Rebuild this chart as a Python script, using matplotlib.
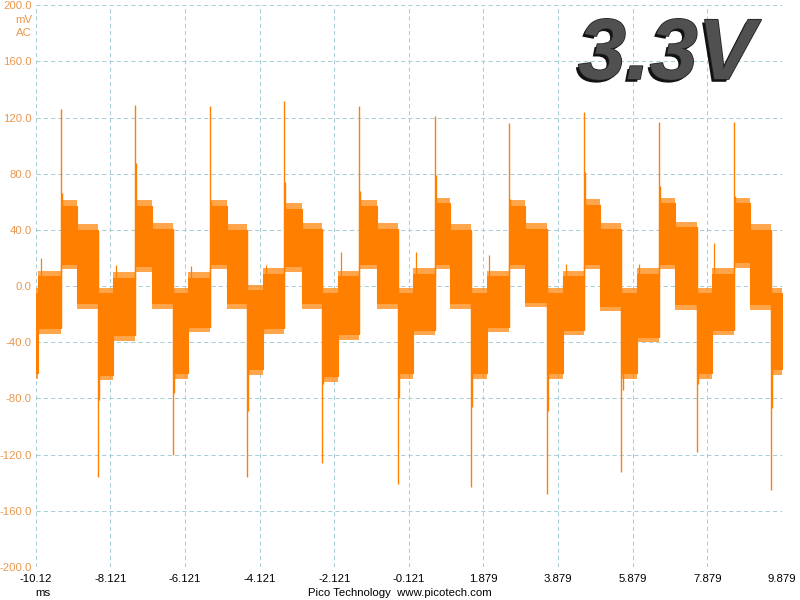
import matplotlib
matplotlib.use("Agg")
import matplotlib.pyplot as plt
import matplotlib.patheffects as pe

# ---------------- data (time in ms, level in mV) -------------
x_tick_vals = [-10.12, -8.121, -6.121, -4.121, -2.121, -0.121, 1.879, 3.879, 5.879, 7.879, 9.879]
x_tick_labels = ["-10.12", "-8.121", "-6.121", "-4.121", "-2.121", "-0.121",
                 "1.879", "3.879", "5.879", "7.879", "9.879"]
y_tick_vals = [200, 160, 120, 80, 40, 0, -40, -80, -120, -160, -200]
y_tick_labels = ["200.0", "160.0", "120.0", "80.0", "40.0", "0.0",
                 "-40.0", "-80.0", "-120.0", "-160.0", "-200.0"]

# leading partial period (end of a low band, then a mid-low band)
lead_t = [-10.12, -10.05]
lead_top = [-5, 7]
lead_bot = [-62, -30]
lead_spike = 20

# positive switching spikes and high band
pos_t = [-9.45, -7.45, -5.44, -3.46, -1.455, 0.574, 2.57, 4.56, 6.58, 8.59]
pos_peak = [126, 129, 128, 132, 128, 121, 116, 124, 117, 117]
pos_over = [66, 88, 60, 74, 68, 79, 62, 81, 71, 64]
high_top = [57, 57, 57, 55, 57, 59, 57, 58, 59, 59]
high_bot = [16, 14, 16, 14, 16, 16, 16, 16, 16, 17]

# mid-high band
midhi_t = [-9.02, -7.01, -5.00, -2.99, -0.98, 0.98, 2.99, 5.00, 7.01, 9.02]
midhi_top = [40, 41, 40, 41, 41, 40, 41, 41, 42, 40]
midhi_bot = [-12, -12, -12, -12, -12, -12, -11, -14, -13, -13]

# negative switching spikes and low band
neg_t = [-8.458, -6.448, -4.449, -2.438, -0.418, 1.555, 3.576, 5.575, 7.596, 9.58]
neg_peak = [-136, -120, -136, -126, -141, -143, -148, -132, -118, -145]
neg_over = [-81, -76, -89, -70, -80, -86, -89, -74, -70, -87]
low_top = [-5, -5, -3, -5, -5, -5, -5, -5, -5, -5]
low_bot = [-63, -62, -59, -64, -62, -62, -62, -62, -62, -59]

# mid-low band
midlo_t = [-8.04, -6.03, -4.02, -2.01, 0.0, 1.98, 4.02, 5.99, 8.0]
midlo_top = [6, 6, 9, 7, 9, 7, 7, 9, 9]
midlo_bot = [-35, -29, -30, -34, -31, -29, -31, -36, -31]
midlo_spike = [15, 14, 15, 24, 24, 22, 16, 16, 31]

# extent of the ragged noise "teeth" beyond the solid bands (mV)
teeth_up = 4
teeth_down = 4

t_end = 9.879

# ---------------- figure ----------------
ORANGE = "#FF8000"
LABEL_OR = "#E8984E"
GRID = "#A9CED8"

fig = plt.figure(figsize=(8, 6), dpi=100)
ax = fig.add_axes([35.7 / 800, 1 - 567 / 600, (782 - 35.7) / 800, (567 - 5.3) / 600])
ax.set_xlim(-10.12, 9.879)
ax.set_ylim(-200, 200)

# build band segments from the read arrays
seg_x, seg_top, seg_bot = list(lead_t), list(lead_top), list(lead_bot)
for k in range(len(pos_t)):
    seg_x += [pos_t[k], midhi_t[k], neg_t[k]]
    seg_top += [high_top[k], midhi_top[k], low_top[k]]
    seg_bot += [high_bot[k], midhi_bot[k], low_bot[k]]
    if k < len(midlo_t):
        seg_x.append(midlo_t[k])
        seg_top.append(midlo_top[k])
        seg_bot.append(midlo_bot[k])
seg_x.append(t_end)
seg_top.append(seg_top[-1])
seg_bot.append(seg_bot[-1])

fringe_top = [v + teeth_up for v in seg_top]
fringe_bot = [v - teeth_down for v in seg_bot]
ax.fill_between(seg_x, fringe_bot, fringe_top, step="post", color=ORANGE,
                alpha=0.7, lw=0, zorder=2.5)
ax.fill_between(seg_x, seg_bot, seg_top, step="post", color=ORANGE, lw=0.8,
                edgecolor=ORANGE, zorder=3)

# spikes
prev_bot = [lead_bot[1]] + midlo_bot
ax.vlines(pos_t, prev_bot, pos_peak, color=ORANGE, lw=1.0, zorder=4)
ax.vlines([t + 0.03 for t in pos_t], high_bot, pos_over, color=ORANGE, lw=1.0, zorder=4)
ax.vlines(neg_t, neg_peak, midhi_top, color=ORANGE, lw=1.0, zorder=4)
ax.vlines([t + 0.03 for t in neg_t], neg_over, low_top, color=ORANGE, lw=1.0, zorder=4)
ax.vlines([lead_t[1] + 0.06] + [t + 0.06 for t in midlo_t],
          [lead_bot[1]] + midlo_bot, [lead_spike] + midlo_spike,
          color=ORANGE, lw=0.9, zorder=4)

# grid / axes styling
ax.set_xticks(x_tick_vals)
ax.set_xticklabels(x_tick_labels, fontsize=8.2, family="Liberation Sans", color="black")
ax.set_yticks(y_tick_vals)
ax.set_yticklabels(y_tick_labels, fontsize=8.2, family="Liberation Sans", color=LABEL_OR)
ax.tick_params(length=0, pad=3, axis="y")
ax.tick_params(length=0, pad=5, axis="x")
ax.grid(True, color=GRID, lw=0.75, ls=(0, (4, 3)))
ax.set_axisbelow(True)
for s in ax.spines.values():
    s.set_visible(False)

fig.text(32 / 800, 1 - 20 / 600, "mV", ha="right", va="center", fontsize=8.2,
         family="Liberation Sans", color=LABEL_OR)
fig.text(32 / 800, 1 - 33 / 600, "AC", ha="right", va="center", fontsize=8.2,
         family="Liberation Sans", color=LABEL_OR)
fig.text(43 / 800, 1 - 593 / 600, "ms", ha="center", va="center", fontsize=8.2,
         family="Liberation Sans", color="black")
fig.text(400 / 800, 1 - 593 / 600, "Pico Technology  www.picotech.com", ha="center",
         va="center", fontsize=8.2, family="Liberation Sans", color="black")

# big "3.3V" label with a bevel-like shadow
fig.text(578 / 800, 1 - 79 / 600, "3.3V", ha="left", va="baseline", fontsize=62,
         family="Liberation Sans", fontweight="bold", style="italic", color="#505050",
         path_effects=[pe.withSimplePatchShadow(offset=(-2, -2), shadow_rgbFace="#111111",
                                                alpha=1.0),
                       pe.withStroke(linewidth=1.2, foreground="#222222")])

fig.savefig("out.png", dpi=100)
